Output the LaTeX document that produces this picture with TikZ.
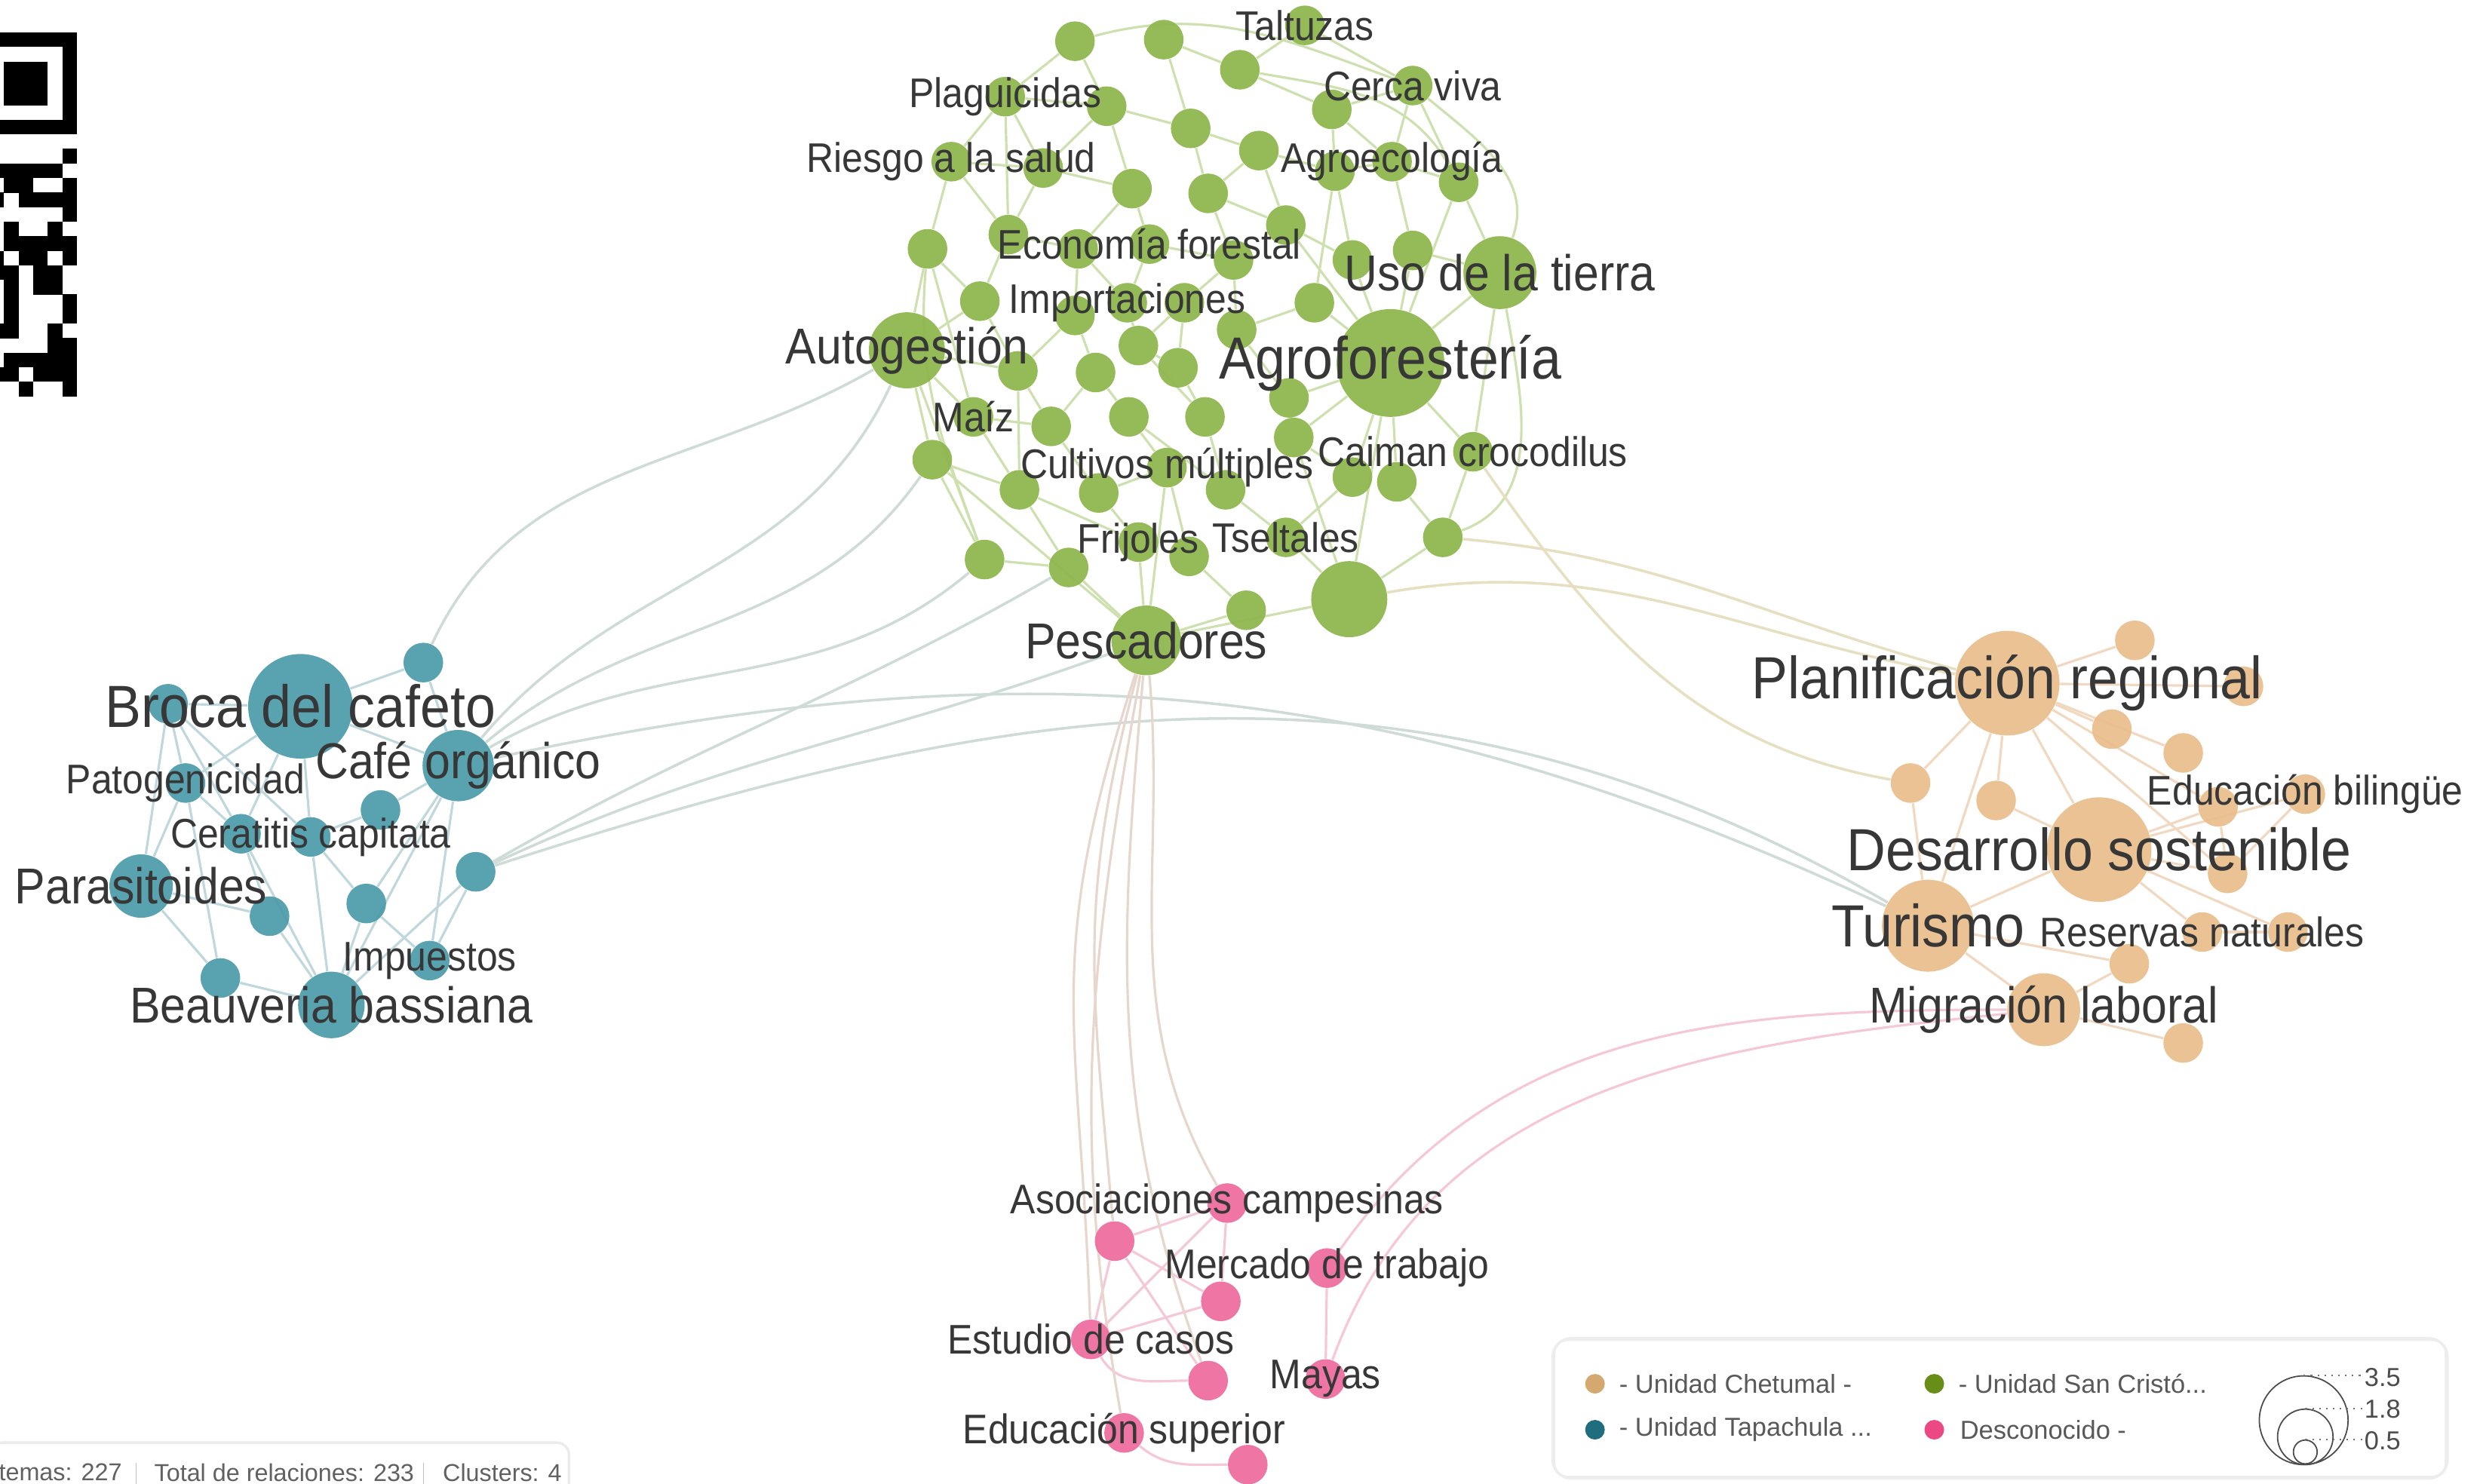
\documentclass[tikz,border=0pt]{standalone}
\usepackage{graphicx}
\usepackage{fontspec}
\setmainfont{Liberation Sans}
\pgfdeclarelayer{back}
\pgfdeclarelayer{edges}
\pgfsetlayers{back,edges,main}

\definecolor{grn}{RGB}{141,182,76}
\definecolor{tea}{RGB}{77,155,170}
\definecolor{orn}{RGB}{233,190,140}
\definecolor{pnk}{RGB}{238,108,158}
\definecolor{txt}{RGB}{55,55,55}
\definecolor{gedgec}{RGB}{206,224,175}
\definecolor{tedgec}{RGB}{192,216,221}
\definecolor{oedgec}{RGB}{241,217,193}
\definecolor{pedgec}{RGB}{246,200,215}
\definecolor{xedgec}{RGB}{207,219,215}
\definecolor{gpedgec}{RGB}{230,214,204}
\definecolor{goedgec}{RGB}{230,223,193}
\definecolor{lgorn}{RGB}{212,168,110}
\definecolor{lggrn}{RGB}{104,142,24}
\definecolor{lgtea}{RGB}{32,110,125}
\definecolor{lgpnk}{RGB}{236,72,132}

\newcommand{\tall}[1]{\scalebox{1}[1.1]{#1}}

\tikzset{
  bub/.style={circle,inner sep=0pt,minimum size=#1*0.04204cm,fill opacity=0.93},
  bub/.default=12.5,
  lblL/.style={text=txt,inner sep=0pt,font=\fontsize{20.4}{24}\selectfont},
  lblM/.style={text=txt,inner sep=0pt,font=\fontsize{17.3}{20}\selectfont},
  lblS/.style={text=txt,inner sep=0pt,font=\fontsize{14.2}{17}\selectfont},
  legtext/.style={text=black!65,inner sep=0pt,anchor=west,font=\fontsize{9.8}{12}\selectfont},
  stattext/.style={text=black!62,inner sep=0pt,anchor=west,font=\fontsize{9.2}{11}\selectfont},
  ge/.style={draw=gedgec,line width=0.9pt},
  te/.style={draw=tedgec,line width=0.9pt},
  oe/.style={draw=oedgec,line width=0.9pt},
  pe/.style={draw=pedgec,line width=0.9pt},
  xe/.style={draw=xedgec,line width=1pt},
  gpe/.style={draw=gpedgec,line width=0.9pt},
  goe/.style={draw=goedgec,line width=1pt},
  legdot/.style={circle,inner sep=0pt,minimum size=0.26cm},
  sizering/.style={circle,draw=black!70,line width=0.5pt,inner sep=0pt,minimum size=#1*0.04204cm}
}

\begin{document}
\begin{tikzpicture}[x=0.02102cm,y=0.02102cm]
\useasboundingbox (0,0) rectangle (1568,-936);
\clip (0,0) rectangle (1568,-936);
\begin{pgfonlayer}{back}
\fill[white] (0,0) rectangle (1568,-936);
\end{pgfonlayer}

% QR code fragment
\fill[black] (-15.9,-20.5) rectangle (48.5,-84.8);
\fill[white] (-6.7,-29.7) rectangle (39.3,-75.6);
\fill[black] (2.5,-38.9) rectangle (30.1,-66.4);
\foreach \r/\cs in {8/{6},9/{1,2,3,4,5},10/{2,3,6},11/{1,3,4,5,6},12/{6},13/{2,5},
  14/{2,3,4,5,6},15/{1,3,4,6},16/{1,2,4,5},17/{2,4,5},18/{2,6},19/{2,6},
  20/{1,2,5},21/{5,6},22/{2,3,4,5,6},23/{1,2,4,5,6},24/{3,6}}
  {\foreach \c in \cs {\fill[black] (9.2*\c-15.9,-20.5-9.18*\r) rectangle ++(9.3,-9.3);}}

% green cluster
\foreach \n/\x/\y in {g01/678/26,g02/734/25,g03/782/44,g04/823/16,g05/634/61,g06/698/67,
  g07/751/81,g08/794/95,g09/840/69,g10/891/54,g11/600/102,g12/658/106,g13/714/119,
  g14/762/122,g15/842/108,g16/878/102,g17/920/115,g18/585/157,g19/636/148,g20/680/157,
  g21/725/154,g22/778/164,g23/811/142,g24/853/164,g25/891/158,g27/618/190,g28/678/199,
  g29/711/191,g30/747/191,g31/780/208,g32/829/191,g34/642/234,g35/691/235,g36/718/218,
  g37/743/232,g38/813/251,g40/614/263,g41/663/269,g42/712/263,g43/760/263,g44/816/276,
  g45/588/290,g46/643/309,g47/693/311,g48/736/295,g49/773/309,g50/853/301,g51/881/304,
  g52/929/285,g53/621/353,g54/674/358,g55/718/342,g56/750/351,g57/811/339,g58/910/339,
  g60/786/385}
  \node[bub,fill=grn] (\n) at (\x,-\y) {};
\node[bub=23,fill=grn] (g26) at (946,-172) {};
\node[bub=24,fill=grn] (g33) at (572,-221) {};
\node[bub=34,fill=grn] (g39) at (877,-229) {};
\node[bub=24,fill=grn] (g59) at (851,-378) {};
\node[bub=22,fill=grn] (g61) at (723,-404) {};

% teal cluster
\foreach \n/\x/\y in {t02/267/418,t03/106/444,t05/117/494,t06/240/511,t07/152/526,
  t08/196/528,t10/300/550,t11/170/578,t12/231/570,t13/139/617,t14/271/606}
  \node[bub,fill=tea] (\n) at (\x,-\y) {};
\node[bub=33,fill=tea] (t01) at (189.5,-445.6) {};
\node[bub=22.5,fill=tea] (t04) at (289,-483) {};
\node[bub=20,fill=tea] (t09) at (89,-559) {};
\node[bub=21,fill=tea] (t15) at (209,-634) {};

% orange cluster
\foreach \n/\x/\y in {o02/1346.5/404,o03/1415/433,o04/1332/460,o05/1377/475,o06/1205/494,
  o07/1259/505,o08/1399/509,o09/1454/501,o11/1405/551,o13/1389/588,o14/1443/588,
  o15/1343/608,o17/1377/658}
  \node[bub,fill=orn] (\n) at (\x,-\y) {};
\node[bub=33,fill=orn] (o01) at (1266,-431) {};
\node[bub=33,fill=orn] (o10) at (1324,-536) {};
\node[bub=29,fill=orn] (o12) at (1216,-584) {};
\node[bub=23,fill=orn] (o16) at (1289,-637) {};

% pink cluster
\foreach \n/\x/\y in {p1/774/759,p2/703/783,p3/837/800,p4/770/821,p5/688/845,
  p6/762/871,p7/836/870,p8/709/904,p9/787/924}
  \node[bub,fill=pnk] (\n) at (\x,-\y) {};

\begin{pgfonlayer}{edges}
\foreach \a/\b in {g01/g05,g01/g06,g02/g03,g02/g07,g03/g04,g03/g09,g04/g10,g05/g06,
  g05/g11,g05/g12,g05/g19,g06/g07,g06/g12,g06/g13,g07/g08,g07/g14,g08/g14,g08/g15,
  g08/g23,g09/g10,g09/g15,g09/g16,g10/g16,g10/g17,g11/g12,g11/g18,g11/g19,g12/g13,
  g12/g19,g13/g20,g13/g21,g14/g22,g14/g23,g15/g16,g15/g24,g15/g32,g16/g17,g16/g25,
  g17/g26,g17/g39,g18/g27,g18/g33,g18/g40,g19/g20,g19/g27,g20/g28,g20/g29,g21/g22,
  g21/g29,g22/g30,g22/g31,g23/g24,g23/g39,g24/g39,g25/g26,g25/g39,g26/g39,g26/g52,
  g27/g33,g27/g34,g28/g34,g28/g35,g29/g36,g30/g36,g30/g37,g31/g38,g31/g32,g32/g39,
  g33/g34,g33/g40,g33/g45,g33/g53,g34/g41,g34/g46,g35/g42,g35/g41,g36/g37,g36/g43,
  g37/g43,g38/g39,g38/g44,g39/g44,g39/g50,g39/g51,g39/g52,g39/g59,g40/g41,g40/g46,
  g41/g47,g42/g48,g42/g49,g43/g49,g44/g50,g45/g46,g45/g53,g46/g54,g46/g55,g47/g48,
  g47/g55,g48/g56,g49/g57,g50/g57,g51/g58,g52/g58,g53/g54,g54/g61,g55/g61,g56/g60,
  g57/g59,g58/g59,g60/g61,g59/g61,g45/g61,g48/g61,g44/g59}
  \draw[ge] (\a) -- (\b);
\draw[ge] (g01) to[out=15,in=160] (g10);
\draw[ge] (g03) to[out=-10,in=120] (g17);
\draw[ge] (g10) to[out=-40,in=70] (g26);
\draw[ge] (g26) to[out=-80,in=20] (g58);
\draw[ge] (g18) to[out=-95,in=110] (g53);

\foreach \a/\b in {t01/t02,t01/t03,t01/t04,t01/t05,t01/t07,t01/t08,t03/t05,t03/t07,
  t03/t09,t03/t08,t05/t07,t05/t09,t05/t13,t07/t11,t07/t15,t08/t06,t08/t12,t08/t15,
  t06/t04,t04/t12,t04/t15,t04/t14,t02/t04,t09/t13,t09/t11,t11/t15,t12/t15,t13/t15,
  t10/t14,t10/t15,t12/t14}
  \draw[te] (\a) -- (\b);

\foreach \a/\b in {o01/o02,o01/o03,o01/o04,o01/o05,o01/o06,o01/o07,o01/o08,o01/o10,
  o01/o11,o01/o12,o10/o07,o10/o08,o10/o09,o10/o11,o10/o12,o10/o13,o10/o14,o12/o15,
  o12/o16,o16/o15,o16/o17,o13/o14,o08/o11,o09/o11,o06/o12}
  \draw[oe] (\a) -- (\b);

\foreach \a/\b in {p1/p2,p1/p4,p1/p5,p2/p4,p2/p5,p2/p6,p4/p5,p3/p7}
  \draw[pe] (\a) -- (\b);
\draw[pe] (p5) to[out=-60,in=180] (p6);
\draw[pe] (p8) to[out=-40,in=180] (p9);

% links between clusters
\draw[xe] (t02) to[out=65,in=-150] (g33);
\draw[xe] (t04) to[out=50,in=-115] (g33);
\draw[xe] (t04) to[out=40,in=-125] (g45);
\draw[xe] (t04) to[out=30,in=-140] (g53);
\draw[xe] (t10) to[out=30,in=-150] (g54);
\draw[xe] (t10) to[out=25,in=-160] (g61);
\draw[xe] (t04) to[out=12,in=155] (o12);
\draw[xe] (t10) to[out=18,in=150] (o12);
\draw[goe] (g58) to[out=-5,in=165] (o01);
\draw[goe] (g59) to[out=10,in=170] (o01);
\draw[goe] (g52) to[out=-55,in=170] (o06);
\draw[gpe] (g61) to[out=-108,in=92,looseness=1.2] (p5);
\draw[gpe] (g61) to[out=-105,in=95,looseness=1.1] (p2);
\draw[gpe] (g61) to[out=-100,in=100] (p8);
\draw[gpe] (g61) to[out=-95,in=110] (p6);
\draw[gpe] (g61) to[out=-85,in=120] (p1);
\draw[pe] (o16) to[out=180,in=55] (p3);
\draw[pe] (o16) to[out=186,in=70] (p7);
\end{pgfonlayer}

% labels
\foreach \n/\t in {g39/Agroforestería,t01/Broca del cafeto,o01/Planificación regional,
  o10/Desarrollo sostenible,o12/Turismo}
  \node[lblL] at (\n) {\tall{\t}};
\foreach \n/\t in {g26/Uso de la tierra,g33/Autogestión,g61/Pescadores,t09/Parasitoides,
  t04/Café orgánico,t15/Beauveria bassiana,o16/Migración laboral}
  \node[lblM] at (\n) {\tall{\t}};
\foreach \n/\t in {g04/Taltuzas,g05/Plaguicidas,g10/Cerca viva,g11/Riesgo a la salud,
  g16/Agroecología,g21/Economía forestal,g29/Importaciones,g40/Maíz,
  g48/Cultivos múltiples,g52/Caiman crocodilus,g55/Frijoles,g57/Tseltales,
  t05/Patogenicidad,t08/Ceratitis capitata,t14/Impuestos,o09/Educación bilingüe,
  o13/Reservas naturales,p1/Asociaciones campesinas,p3/Mercado de trabajo,
  p5/Estudio de casos,p7/Mayas,p8/Educación superior}
  \node[lblS] at (\n) {\tall{\t}};

% stats box
\draw[black!8,line width=2pt,rounded corners=4] (-5,-911) rectangle (358,-950);
\fill[white,rounded corners=4] (-5,-911) rectangle (358,-950);
\node[stattext] (s1) at (-1,-929) {temas: 227};
\node[stattext] (s2) at (97,-929) {Total de relaciones: 233};
\node[stattext] (s3) at (279,-929) {Clusters: 4};
\draw[black!25,line width=0.4pt] (86,-923) -- (86,-936);
\draw[black!25,line width=0.4pt] (267,-923) -- (267,-936);

% legend
\draw[black!7,line width=3pt,rounded corners=6] (981,-846) rectangle (1542,-931);
\fill[white,rounded corners=5] (981,-846) rectangle (1542,-931);
\node[legdot,fill=lgorn] (d1) at (1006,-873) {};
\node[legdot,fill=lggrn] (d2) at (1220,-873) {};
\node[legdot,fill=lgtea] (d3) at (1006,-902) {};
\node[legdot,fill=lgpnk] (d4) at (1220,-902) {};
\node[legtext] at (1021,-873) {- Unidad Chetumal -};
\node[legtext] at (1235,-873) {- Unidad San Cristó...};
\node[legtext] at (1021,-902) {- Unidad Tapachula ...};
\node[legtext] at (1236,-902) {Desconocido -};
\node[sizering=28] (r1) at (1453,-896) {};
\node[sizering=17.5] (r2) at (1454,-906.5) {};
\node[sizering=7.5] (r3) at (1454,-916) {};
\node[legtext,text=black!70] (v1) at (1491,-869) {3.5};
\node[legtext,text=black!70] (v2) at (1491,-889) {1.8};
\node[legtext,text=black!70] (v3) at (1491,-909) {0.5};
\draw[black!55,dotted,line width=0.6pt] (r1.north) -- (v1.west |- r1.north);
\draw[black!55,dotted,line width=0.6pt] (r2.north) -- (v2.west |- r2.north);
\draw[black!55,dotted,line width=0.6pt] (r3.north) -- (v3.west |- r3.north);
\end{tikzpicture}
\end{document}
